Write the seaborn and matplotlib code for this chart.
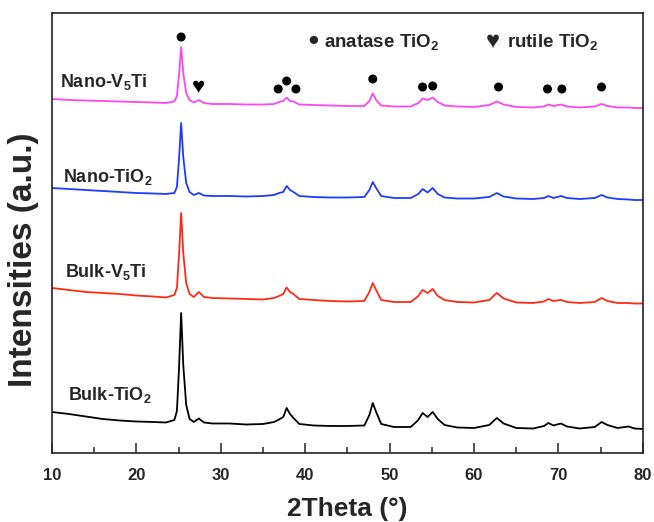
import matplotlib
matplotlib.use("Agg")
import matplotlib.pyplot as plt
import pandas as pd
import seaborn as sns

# XRD patterns (intensity in arbitrary stacked units)
two_theta = [10, 12, 14, 16, 18, 20, 22, 23.5, 24.5, 24.8,
             25.05, 25.3, 25.55, 25.9, 26.3, 26.8, 27.4, 28.0, 29, 31,
             33, 35, 36.3, 36.9, 37.4, 37.8, 38.2, 38.6, 39.3, 41,
             43, 45, 47.0, 47.6, 48.0, 48.4, 49.0, 50.5, 52.5, 53.4,
             53.9, 54.5, 55.1, 55.7, 56.5, 58, 60, 61.8, 62.7, 63.5,
             65, 67, 68.3, 68.8, 69.4, 70.3, 71.0, 72.5, 74.3, 75.1,
             75.8, 77, 78.3, 79, 80]

nano_v5ti = [354, 353, 352.5, 352, 351.5, 351, 350.5, 350, 351.5, 357,
             378, 406, 380, 360, 353, 350.5, 353, 350, 349, 349,
             348.5, 348.5, 349, 351, 352, 355.5, 352, 351.5, 348.5, 348,
             347.5, 347, 347, 352, 359.5, 353, 347.5, 346.5, 346.5, 350,
             354.5, 353, 355.5, 351, 347.5, 346.5, 346, 348, 351.5, 348.5,
             346, 345.5, 346.5, 348.5, 347, 348.5, 346.5, 345.5, 346.5, 349,
             347, 345.5, 345.5, 345, 345]

nano_tio2 = [265, 264, 263, 262, 261, 260, 259.5, 259, 260, 266,
             294, 330, 296, 270, 261, 258, 260, 257.5, 257, 257,
             256.5, 257, 258, 260, 261, 267, 263, 261, 257, 256,
             255.5, 255.5, 256, 263, 271, 265, 257, 255, 255, 259,
             264, 260.5, 265, 259, 255.5, 254.5, 254.5, 256, 260, 256.5,
             254.5, 254, 255, 257, 255, 257, 255, 254, 255, 258,
             255.5, 254, 253.5, 253, 253]

bulk_v5ti = [165, 163, 161, 160, 159, 157.5, 156.5, 155.5, 158, 165,
             198, 240, 200, 170, 159, 156, 161, 156, 155, 154.5,
             154, 153.5, 155, 157, 159, 165.5, 161, 159, 154, 153,
             152, 151.5, 152, 161, 170, 163, 153, 151, 151, 157,
             163, 160, 164, 157, 153, 151, 150.5, 153, 160, 154.5,
             150.5, 150, 151.5, 154, 152, 153, 151, 150, 151, 155,
             152, 150, 150, 149.5, 149.5]

bulk_tio2 = [41, 39, 36.5, 34, 32.5, 31.5, 31, 30.5, 33, 42,
             85, 140, 88, 48, 34, 31, 34.5, 30.5, 29.5, 29.5,
             28.5, 29, 31, 33.5, 36, 45, 39, 35, 29, 27.5,
             27, 27, 27.5, 38, 50, 41, 29, 26, 26, 33,
             40, 36, 41, 34, 28, 25.5, 25, 28, 35, 29.5,
             25, 24.5, 27, 30, 27.5, 29.5, 26.5, 24.5, 26, 31,
             28, 25, 26.5, 24.5, 24]

samples = ["Bulk-TiO2", "Bulk-V5Ti", "Nano-TiO2", "Nano-V5Ti"]
sample_labels = ["Bulk-TiO$_2$", "Bulk-V$_5$Ti", "Nano-TiO$_2$", "Nano-V$_5$Ti"]
sample_colors = ["#000000", "#FF2A14", "#1E3CFF", "#FF45F5"]
label_x = [11.9, 11.5, 11.3, 10.95]
label_y = [53, 176, 271, 366]

anatase_x = [25.3, 36.8, 37.8, 38.9, 48.0, 53.9, 55.1, 62.9, 68.7, 70.4, 75.1]
anatase_y = [416, 364, 372, 364, 374, 366, 367, 366, 364, 364, 366]
rutile_x = [27.4]
rutile_y = [366]

sns.set_theme(style="ticks")
plt.rcParams["font.family"] = ["Liberation Sans", "DejaVu Sans"]
plt.rcParams["font.weight"] = "bold"
plt.rcParams["mathtext.fontset"] = "custom"
plt.rcParams["mathtext.rm"] = "Liberation Sans:bold"
plt.rcParams["mathtext.it"] = "Liberation Sans:bold"
plt.rcParams["mathtext.bf"] = "Liberation Sans:bold"

df = pd.DataFrame({
    "two_theta": two_theta * 4,
    "intensity": bulk_tio2 + bulk_v5ti + nano_tio2 + nano_v5ti,
    "sample": [s for s in samples for _ in two_theta],
})

fig = plt.figure(figsize=(6.54, 5.22), dpi=100)
ax = fig.add_axes([0.0795, 0.1322, 0.9035, 0.8429])

sns.lineplot(data=df, x="two_theta", y="intensity", hue="sample",
             palette=dict(zip(samples, sample_colors)), linewidth=1.3,
             legend=False, sort=False, ax=ax)

sns.scatterplot(x=anatase_x, y=anatase_y, color="black", s=42,
                edgecolor="none", ax=ax)
for x, y in zip(rutile_x, rutile_y):
    ax.text(x, y, "\u2665", fontsize=16, ha="center", va="center", color="black")

for lab, x, y in zip(sample_labels, label_x, label_y):
    ax.text(x, y, lab, fontsize=13, fontweight="bold", ha="left", va="baseline")

# legend written as text at top of the panel
ax.text(40.9, 412, "\u25CF", fontsize=14, ha="center", va="center")
ax.text(42.2, 406, "anatase TiO$_2$", fontsize=13.5, fontweight="bold", va="baseline")
ax.text(62.2, 412, "\u2665", fontsize=17, ha="center", va="center")
ax.text(63.9, 406, "rutile TiO$_2$", fontsize=13.5, fontweight="bold", va="baseline")

ax.set_xlim(10, 80)
ax.set_ylim(0, 440)
ax.set_xticks(range(10, 81, 10))
ax.set_xticks(range(15, 80, 10), minor=True)
ax.set_yticks([])
ax.tick_params(axis="x", which="both", direction="in", top=False, width=1.1,
               labelsize=12, pad=11)
ax.tick_params(axis="x", which="major", length=7)
ax.tick_params(axis="x", which="minor", length=4)
for lbl in ax.get_xticklabels():
    lbl.set_fontweight("bold")
for sp in ax.spines.values():
    sp.set_linewidth(1.2)
    sp.set_color("#222222")

ax.set_xlabel("2Theta (°)", fontsize=19, fontweight="bold", labelpad=10)
ax.set_ylabel("Intensities (a.u.)", fontsize=24, fontweight="bold")
ax.yaxis.set_label_coords(-0.049, 0.44)
ax.yaxis.label.set_va("center")

fig.savefig("out.png", dpi=100)
